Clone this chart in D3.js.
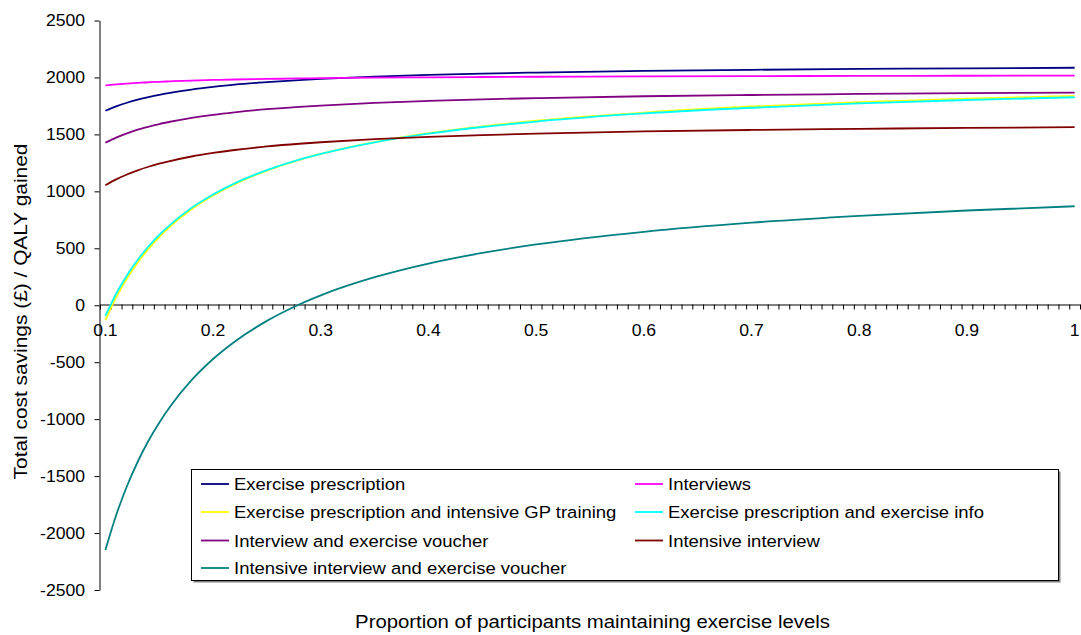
<!DOCTYPE html>
<html>
<head>
<meta charset="utf-8">
<script src="https://cdn.jsdelivr.net/npm/d3@7"></script>
<style>
  body { margin: 0; background: #fff; }
  text { font-family: "Liberation Sans", Arial, sans-serif; fill: #000; }
</style>
</head>
<body>
<svg id="chart" width="1081" height="635"></svg>
<script>
// Proportion of participants maintaining exercise levels (x values)
const proportion = [0.10, 0.11, 0.12, 0.13, 0.14, 0.15, 0.16, 0.18, 0.20, 0.22, 0.25,
                    0.28, 0.30, 0.35, 0.40, 0.45, 0.50, 0.60, 0.70, 0.80, 0.90, 1.00];

// Total cost savings (£) per QALY gained, one array per intervention
const exercisePrescription = [1708, 1746, 1778, 1805, 1828, 1848, 1865, 1894, 1917, 1937, 1959,
                              1977, 1987, 2007, 2022, 2034, 2043, 2057, 2067, 2075, 2080, 2085];
const interviews = [1931, 1939, 1946, 1952, 1958, 1962, 1966, 1973, 1978, 1982, 1987,
                    1991, 1994, 1998, 2001, 2004, 2006, 2009, 2012, 2013, 2015, 2016];
const prescriptionGPTraining = [-130, 69, 234, 375, 495, 599, 690, 842, 963, 1063, 1182,
                                1276, 1328, 1432, 1510, 1571, 1620, 1692, 1745, 1784, 1814, 1838];
const prescriptionExerciseInfo = [-93, 101, 262, 399, 516, 618, 706, 855, 973, 1070, 1186,
                                  1278, 1328, 1430, 1506, 1565, 1613, 1684, 1734, 1772, 1802, 1826];
const interviewVoucher = [1428, 1472, 1509, 1541, 1567, 1591, 1611, 1645, 1672, 1694, 1721,
                          1742, 1753, 1777, 1794, 1808, 1818, 1835, 1846, 1855, 1862, 1867];
const intensiveInterview = [1054, 1105, 1148, 1185, 1216, 1243, 1266, 1306, 1337, 1363, 1394,
                            1418, 1431, 1458, 1478, 1494, 1507, 1526, 1539, 1549, 1557, 1563];
const intensiveInterviewVoucher = [-2148, -1843, -1589, -1374, -1190, -1031, -891, -658, -472, -320, -137,
                                   7, 87, 246, 366, 459, 534, 645, 725, 785, 832, 869];

const seriesNames = [
  "Exercise prescription",
  "Interviews",
  "Exercise prescription and intensive GP training",
  "Exercise prescription and exercise info",
  "Interview and exercise voucher",
  "Intensive interview",
  "Intensive interview and exercise voucher"
];
const seriesValues = [exercisePrescription, interviews, prescriptionGPTraining, prescriptionExerciseInfo,
                      interviewVoucher, intensiveInterview, intensiveInterviewVoucher];
const seriesColors = ["#000080", "#FF00FF", "#FFFF00", "#00FFFF", "#800080", "#800000", "#008080"];

const yTicks = [-2500, -2000, -1500, -1000, -500, 0, 500, 1000, 1500, 2000, 2500];
const xTickLabels = [0.1, 0.2, 0.3, 0.4, 0.5, 0.6, 0.7, 0.8, 0.9, 1];

const xTitle = "Proportion of participants maintaining exercise levels";
const yTitle = "Total cost savings (£) / QALY gained";

// ---- layout ----
const svg = d3.select("#chart");
const plotLeft = 100, plotRight = 1080, plotTop = 20.5, plotBottom = 590;
const stretch = 1.1;   // glyphs are drawn slightly wide

// categories sit between tick marks, 0.01 apart
const x = d3.scaleLinear().domain([0.095, 1.005]).range([plotLeft, plotRight]);
const y = d3.scaleLinear().domain([-2500, 2500]).range([plotBottom, plotTop]);

// y axis
svg.append("g")
  .attr("transform", `translate(${plotLeft - 0.5},0)`)
  .call(d3.axisLeft(y).tickValues(yTicks).tickSize(5).tickSizeOuter(0).tickFormat(""))
  .call(g => g.selectAll("path,line").attr("stroke", "#000").attr("stroke-width", 1));

svg.append("g").selectAll("text").data(yTicks).join("text")
  .attr("transform", d => `translate(85,${y(d) + 5.8}) scale(${stretch},1)`)
  .attr("text-anchor", "end")
  .style("font-size", "16px")
  .text(d => d);

// x axis along the zero line, with a tick between every category
const boundaries = d3.range(0, 92).map(k => +(0.095 + k * 0.01).toFixed(3));
svg.append("g")
  .attr("transform", `translate(0,${Math.round(y(0)) - 0.5})`)
  .call(d3.axisBottom(x).tickValues(boundaries).tickSize(5).tickSizeOuter(0).tickFormat(""))
  .call(g => g.selectAll("path,line").attr("stroke", "#000").attr("stroke-width", 1));

svg.append("g").selectAll("text").data(xTickLabels).join("text")
  .attr("transform", d => `translate(${x(d)},336) scale(${stretch},1)`)
  .attr("text-anchor", "middle")
  .style("font-size", "16px")
  .text(d => d3.format("~g")(d));

// series lines
const line = d3.line()
  .x(d => x(d[0]))
  .y(d => y(d[1]))
  .curve(d3.curveMonotoneX);

svg.append("g").selectAll("path").data(seriesValues).join("path")
  .attr("d", vals => line(proportion.map((p, i) => [p, vals[i]])))
  .attr("fill", "none")
  .attr("stroke", (d, i) => seriesColors[i])
  .attr("stroke-width", 1.8);

// axis titles
svg.append("text")
  .attr("transform", `translate(592.5,628) scale(${stretch},1)`)
  .attr("text-anchor", "middle")
  .style("font-size", "18.5px")
  .text(xTitle);

svg.append("text")
  .attr("transform", `translate(26.5,311.5) rotate(-90) scale(1.13,1)`)
  .attr("text-anchor", "middle")
  .style("font-size", "18.5px")
  .text(yTitle);

// legend
const lgX = 191.5, lgY = 469.5, lgW = 867, lgH = 111;
const legend = svg.append("g");
legend.append("rect")
  .attr("x", lgX + 2).attr("y", lgY + 2).attr("width", lgW).attr("height", lgH)
  .attr("fill", "#808080");
legend.append("rect")
  .attr("x", lgX).attr("y", lgY).attr("width", lgW).attr("height", lgH)
  .attr("fill", "#fff").attr("stroke", "#000").attr("stroke-width", 1);

const colX = [201, 635];
const rowY = [484, 512, 540.5, 568];
const items = legend.selectAll("g.item").data(seriesNames).join("g")
  .attr("class", "item")
  .attr("transform", (d, i) => `translate(${colX[i % 2]},${rowY[Math.floor(i / 2)]})`);
items.append("line")
  .attr("x1", 0).attr("x2", 28).attr("y1", 0).attr("y2", 0)
  .attr("stroke", (d, i) => seriesColors[i]).attr("stroke-width", 1.8);
items.append("text")
  .attr("transform", `translate(33,6) scale(${stretch},1)`)
  .style("font-size", "16.8px")
  .text(d => d);
</script>
</body>
</html>
